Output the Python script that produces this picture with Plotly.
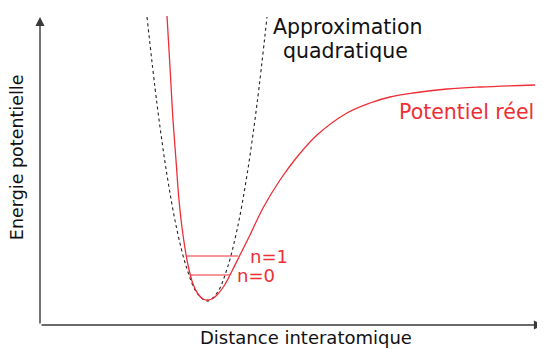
import plotly.graph_objects as go

# Potentiel réel, distance / énergie en unités arbitraires
reel_r = [1.27, 1.29, 1.31, 1.33, 1.36, 1.39, 1.43, 1.48, 1.53, 1.58, 1.63, 1.67,
          1.72, 1.77, 1.84, 1.92, 2.00, 2.10, 2.23, 2.40, 2.57, 2.77, 3.07, 3.30,
          3.50, 3.73, 4.07, 4.40, 4.95]
reel_e = [3.09, 2.75, 2.40, 2.05, 1.65, 1.25, 0.90, 0.60, 0.41, 0.31, 0.26, 0.25,
          0.26, 0.30, 0.39, 0.54, 0.70, 0.90, 1.17, 1.45, 1.68, 1.90, 2.12, 2.22,
          2.28, 2.32, 2.36, 2.38, 2.40]

# Approximation quadratique
quad_r = [1.07, 1.17, 1.27, 1.37, 1.47, 1.57, 1.67, 1.77, 1.87, 1.97, 2.07, 2.17, 2.27]
quad_e = [3.08, 2.21, 1.50, 0.95, 0.56, 0.32, 0.24, 0.32, 0.56, 0.95, 1.50, 2.21, 3.08]

# Niveaux vibrationnels
niveaux = ["n=0", "n=1"]
niveau_e = [0.50, 0.69]
niveau_r0 = [1.50, 1.47]
niveau_r1 = [1.90, 1.98]

RED = "#ee2e36"
FONT = "DejaVu Sans"

fig = go.Figure()

fig.add_trace(go.Scatter(
    x=quad_r, y=quad_e, mode="lines",
    line=dict(color="#222222", width=1.1, dash="dot", shape="spline"),
    hoverinfo="skip"
))

fig.add_trace(go.Scatter(
    x=reel_r, y=reel_e, mode="lines",
    line=dict(color=RED, width=1.3, shape="spline"),
    hoverinfo="skip"
))

for e, r0, r1 in zip(niveau_e, niveau_r0, niveau_r1):
    fig.add_trace(go.Scatter(
        x=[r0, r1], y=[e, e], mode="lines",
        line=dict(color=RED, width=1),
        hoverinfo="skip"
    ))

# axes avec flèches
fig.add_annotation(x=5.03, y=0, ax=0, ay=0, xref="x", yref="y", axref="x", ayref="y",
                   text="", showarrow=True, arrowhead=2, arrowsize=1.3,
                   arrowwidth=1.4, arrowcolor="#3a3a3a", standoff=0)
fig.add_annotation(x=0, y=3.08, ax=0, ay=0, xref="x", yref="y", axref="x", ayref="y",
                   text="", showarrow=True, arrowhead=2, arrowsize=1.3,
                   arrowwidth=1.4, arrowcolor="#3a3a3a", standoff=0)

# textes
fig.add_annotation(x=3.08, y=2.98, text="Approximation", showarrow=False,
                   font=dict(family=FONT, size=20.5, color="#111111"))
fig.add_annotation(x=3.05, y=2.74, text="quadratique", showarrow=False,
                   font=dict(family=FONT, size=20.5, color="#111111"))
fig.add_annotation(x=4.26, y=2.13, text="Potentiel réel", showarrow=False,
                   font=dict(family=FONT, size=20.5, color=RED))
fig.add_annotation(x=2.08, y=0.69, text=niveaux[1], showarrow=False, xanchor="left",
                   font=dict(family=FONT, size=18, color=RED))
fig.add_annotation(x=1.95, y=0.50, text=niveaux[0], showarrow=False, xanchor="left",
                   font=dict(family=FONT, size=18, color=RED))
fig.add_annotation(x=0.527, y=-0.040, xref="paper", yref="paper",
                   xanchor="center", yanchor="middle",
                   text="Distance interatomique", showarrow=False,
                   font=dict(family=FONT, size=18, color="#111111"))
fig.add_annotation(x=-0.0455, y=0.533, xref="paper", yref="paper",
                   xanchor="center", yanchor="middle",
                   text="Energie potentielle", showarrow=False, textangle=-90,
                   font=dict(family=FONT, size=17.5, color="#111111"))

# la page ajoute 8 px de marge autour de la figure
fig.update_layout(
    width=537, height=341,
    margin=dict(l=32, r=0, t=2, b=24),
    plot_bgcolor="white", paper_bgcolor="white",
    showlegend=False,
    xaxis=dict(range=[0, 5.05], visible=False),
    yaxis=dict(range=[0, 3.15], visible=False),
)

fig.write_html("out.html")
